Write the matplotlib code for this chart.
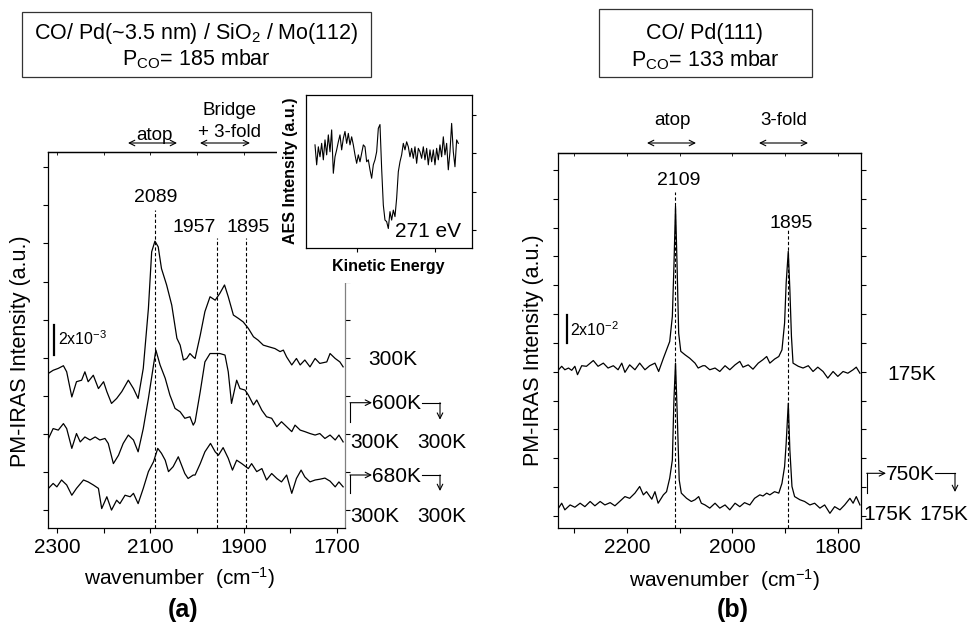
import matplotlib
matplotlib.use("Agg")
import matplotlib.pyplot as plt
from matplotlib.patches import Rectangle
from matplotlib.lines import Line2D
import numpy as np

plt.rcParams['font.family'] = ['Liberation Sans', 'DejaVu Sans']
plt.rcParams['mathtext.fontset'] = 'custom'
plt.rcParams['mathtext.rm'] = 'Liberation Sans'
plt.rcParams['mathtext.it'] = 'Liberation Sans:italic'
plt.rcParams['mathtext.bf'] = 'Liberation Sans:bold'

# ---- panel (a): CO / Pd(~3.5 nm) / SiO2 / Mo(112), intensities in a.u. (offset traces)
wn_300 = [2318, 2308, 2297, 2286, 2279, 2268, 2258, 2247, 2240, 2233, 2222, 2211, 2200, 2193, 2183,
          2172, 2161, 2147, 2136, 2126, 2115, 2104, 2097, 2090, 2083, 2076, 2065, 2054, 2043, 2036,
          2029, 2022, 2015, 2008, 2004, 1993, 1983, 1972, 1961, 1951, 1941, 1933, 1922, 1911, 1901,
          1890, 1879, 1869, 1858, 1847, 1833, 1822, 1815, 1808, 1797, 1787, 1779, 1769, 1758, 1747,
          1737, 1722, 1715, 1704, 1694, 1687]
int_300 = [35.9, 36.7, 37.2, 37.9, 36.3, 29.7, 33.7, 34.1, 36.3, 33.7, 35.4, 31.9, 33.7, 31.1, 28.0,
           29.3, 31.1, 34.1, 31.9, 29.3, 37.2, 52.9, 67.8, 70.6, 69.1, 63.4, 59.1, 53.8, 45.1, 43.3,
           39.4, 39.8, 41.1, 40.2, 39.8, 45.9, 52.1, 56.0, 55.1, 56.9, 59.1, 56.0, 51.2, 50.3, 49.4,
           47.7, 45.5, 44.6, 43.3, 42.9, 42.4, 41.6, 42.0, 40.2, 38.1, 39.8, 38.1, 39.4, 37.6, 39.8,
           38.5, 38.9, 41.1, 39.8, 38.9, 37.6]

wn_600 = [2318, 2308, 2297, 2286, 2279, 2268, 2258, 2250, 2240, 2229, 2218, 2208, 2197, 2190, 2179,
          2168, 2158, 2147, 2136, 2126, 2115, 2104, 2093, 2088, 2079, 2068, 2058, 2047, 2036, 2026,
          2015, 2008, 2004, 1993, 1983, 1972, 1961, 1951, 1940, 1933, 1926, 1915, 1908, 1897, 1890,
          1879, 1872, 1861, 1851, 1840, 1829, 1819, 1808, 1797, 1790, 1779, 1769, 1758, 1747, 1737,
          1726, 1715, 1704, 1696, 1687]
int_600 = [18.8, 21.4, 21.0, 22.7, 21.4, 16.2, 20.1, 17.9, 19.2, 18.4, 19.2, 18.4, 18.8, 17.5, 12.2,
           14.4, 17.5, 19.7, 18.4, 15.3, 21.4, 29.3, 38.1, 42.0, 38.1, 34.6, 30.2, 26.7, 25.8, 24.1,
           24.5, 22.3, 23.2, 31.1, 38.9, 41.1, 41.1, 41.1, 40.7, 36.3, 28.0, 34.1, 31.9, 31.5, 30.2,
           27.6, 28.9, 26.2, 24.5, 24.1, 21.9, 23.2, 21.9, 20.6, 22.3, 21.0, 20.6, 20.1, 19.7, 20.1,
           18.8, 19.7, 18.4, 19.7, 17.9]

wn_680 = [2318, 2308, 2300, 2290, 2279, 2268, 2258, 2243, 2233, 2222, 2211, 2204, 2193, 2183, 2172,
          2165, 2154, 2143, 2136, 2126, 2115, 2104, 2093, 2084, 2076, 2068, 2061, 2051, 2040, 2033,
          2026, 2019, 2008, 2004, 1993, 1983, 1971, 1961, 1954, 1944, 1933, 1924, 1915, 1904, 1890,
          1883, 1872, 1861, 1851, 1840, 1829, 1819, 1808, 1797, 1787, 1777, 1769, 1758, 1747, 1737,
          1726, 1715, 1704, 1696, 1687]
int_680 = [5.7, 7.0, 6.1, 7.9, 6.6, 3.9, 5.7, 7.9, 7.4, 6.6, 5.7, 0.4, 3.5, 0.0, 2.6,
           1.7, 3.9, 3.5, 4.4, 1.7, 5.7, 10.1, 12.7, 16.2, 14.9, 13.1, 10.1, 11.4, 14.0, 11.8,
           9.6, 8.3, 9.2, 9.2, 12.2, 15.3, 17.5, 15.3, 14.4, 16.4, 13.6, 10.5, 13.1, 12.2, 10.9,
           12.2, 10.1, 10.9, 7.9, 9.6, 8.3, 7.4, 9.2, 4.4, 8.3, 10.5, 8.7, 7.4, 7.9, 8.1,
           8.4, 7.6, 6.1, 7.4, 6.1]

peaks_a = [2089, 1957, 1895]
peak_tops_a = [78.7, 71.4, 71.4]

# ---- inset: AES spectrum
ke = np.arange(249.0, 292.01, 0.5)
aes = [22.2, 17.0, 21.7, 19.1, 22.6, 18.3, 23.5, 19.6, 24.8, 20.4, 26.1, 14.8, 19.1, 20.9, 23.0,
       24.8, 20.9, 23.9, 25.7, 22.6, 25.2, 22.2, 24.3, 22.2, 19.6, 17.4, 19.6, 17.8, 20.0, 22.2,
       21.7, 17.8, 18.3, 15.7, 13.5, 17.0, 18.3, 20.4, 26.5, 27.5, 16.0, 6.5, 2.6, 2.2, 0.4,
       4.8, 2.6, 5.2, 3.5, 8.3, 15.2, 17.8, 19.6, 22.6, 20.9, 23.0, 21.7, 19.1, 21.3, 18.7,
       21.7, 17.4, 21.3, 20.4, 18.7, 21.7, 18.3, 21.3, 17.0, 20.9, 17.8, 20.9, 17.0, 21.3, 18.3,
       22.2, 19.1, 24.3, 19.6, 22.6, 15.7, 20.4, 27.8, 20.4, 16.5, 23.5, 22.6]

# ---- panel (b): CO / Pd(111)
wn_175 = [2330, 2324, 2318, 2311, 2305, 2299, 2294, 2286, 2277, 2264, 2255, 2245, 2236, 2226, 2217,
          2210, 2204, 2195, 2185, 2176, 2166, 2157, 2147, 2140, 2131, 2125, 2119, 2114, 2111, 2108,
          2105, 2102, 2098, 2090, 2081, 2071, 2065, 2056,
          2052, 2043, 2033, 2024, 2014, 2005, 1995, 1986, 1980, 1970, 1961, 1951, 1942, 1935, 1929,
          1920, 1912, 1906, 1901, 1898, 1894, 1891, 1888, 1885, 1875, 1866, 1856, 1847, 1838, 1828,
          1819, 1809, 1800, 1790, 1781, 1771, 1765, 1758]
int_175 = [50.7, 51.9, 50.7, 51.3, 50.5, 51.9, 49.0, 52.1, 51.9, 53.9, 51.9, 53.0, 51.3, 52.1, 50.7,
           53.0, 49.8, 52.4, 50.7, 53.0, 50.7, 52.1, 53.0, 50.1, 54.7, 57.6, 60.5, 69.2, 86.6, 107.4,
           86.6, 63.4, 57.1, 55.9, 54.7, 53.0, 51.3, 52.1,
           52.1, 50.7, 51.3, 50.1, 52.1, 50.7, 52.4, 53.6, 51.6, 52.4, 50.9, 53.0, 54.2, 55.3, 53.0,
           54.4, 55.3, 57.6, 66.9, 80.8, 91.8, 78.5, 62.3, 53.0, 51.9, 51.3, 52.1, 50.1, 51.6, 50.1,
           47.8, 50.1, 48.4, 50.1, 49.5, 50.7, 51.6, 49.5]

wn_750 = [2330, 2324, 2318, 2308, 2299, 2289, 2280, 2270, 2261, 2251, 2242, 2232, 2223, 2214, 2204,
          2195, 2185, 2176, 2169, 2163, 2153, 2147, 2141, 2131, 2125, 2119, 2114, 2111, 2108, 2105,
          2101, 2097, 2087, 2078, 2071, 2064, 2059,
          2052, 2043, 2033, 2024, 2014, 2005, 1995, 1986, 1977, 1967, 1958, 1948, 1942, 1935, 1929,
          1920, 1912, 1906, 1901, 1898, 1894, 1891, 1887, 1882, 1872, 1863, 1853, 1844, 1834, 1825,
          1815, 1806, 1796, 1787, 1777, 1771, 1765, 1758]
int_750 = [2.7, 4.4, 2.1, 3.8, 3.0, 4.4, 3.2, 5.0, 3.5, 5.0, 3.8, 4.6, 3.5, 5.0, 6.7,
           6.1, 7.9, 10.2, 7.3, 8.4, 5.8, 8.4, 4.4, 7.3, 8.4, 13.1, 19.4, 40.3, 53.0, 36.8,
           12.5, 7.9, 6.1, 5.0, 5.6, 6.7, 4.4,
           3.8, 2.7, 4.4, 2.7, 3.8, 2.1, 4.4, 3.2, 4.6, 3.8, 6.1, 7.3, 6.9, 7.9, 7.3,
           8.4, 7.9, 11.3, 17.1, 25.2, 39.1, 22.9, 10.2, 6.7, 5.6, 5.0, 3.8, 4.4, 2.7, 3.8,
           0.9, 3.2, 2.1, 3.8, 6.1, 4.4, 6.7, 3.8]

peaks_b = [2109, 1895]
peak_tops_b = [112.5, 99.3]

W, H = 968, 625
fig = plt.figure(figsize=(W / 100, H / 100), dpi=100)


def px(x, y):
    # pixel position (from top-left) -> figure fraction
    return (x / W, 1 - y / H)


def fig_line(xs, ys):
    fig.add_artist(Line2D([x / W for x in xs], [1 - y / H for y in ys],
                          color='black', lw=0.8, transform=fig.transFigure))


def fig_arrow(ax, x0, y0, x1, y1, style='->'):
    ax.annotate('', xy=px(x1, y1), xytext=px(x0, y0), xycoords='figure fraction',
                textcoords='figure fraction',
                arrowprops=dict(arrowstyle=style, lw=0.8, color='black', shrinkA=0, shrinkB=0))


def fig_txt(x, y, s, **kw):
    kw.setdefault('fontsize', 15)
    kw.setdefault('va', 'baseline')
    fig.text(x / W, 1 - y / H, s, **kw)


def center_label(label, x, y, axis):
    label.set_verticalalignment('center')
    label.set_horizontalalignment('center')
    axis.set_label_coords(x, y)


ax_a = fig.add_axes([48 / W, 1 - 528 / H, 297 / W, 376 / H])
ax_b = fig.add_axes([558 / W, 1 - 528 / H, 303 / W, 375 / H])
ax_in = fig.add_axes([306 / W, 1 - 247.7 / H, 166.3 / W, 152.7 / H], zorder=3)

# ---------- panel (a)
for wn, val in [(wn_300, int_300), (wn_600, int_600), (wn_680, int_680)]:
    ax_a.plot(wn, val, color='black', lw=0.9)
ax_a.set_xlim(2319, 1683)
ax_a.set_ylim(-4.7, 94.0)
ax_a.vlines(peaks_a, -4.7, peak_tops_a, colors='black', linestyles=(0, (3, 2)), lw=0.8)
ax_a.text(2089, 80.8, '2089', ha='center', va='baseline', fontsize=14)
ax_a.text(1960, 73.0, '1957', ha='right', va='baseline', fontsize=14)
ax_a.text(1890, 73.0, '1895', ha='center', va='baseline', fontsize=14)
ax_a.plot([2306, 2306], [40.7, 48.6], color='black', lw=1.6)
ax_a.text(2298, 45.1, r'2x10$^{\mathrm{-3}}$', fontsize=11.5, va='center')

ax_a.set_xticks([2300, 2200, 2100, 2000, 1900, 1800, 1700])
ax_a.set_xticklabels(['2300', '', '2100', '', '1900', '', '1700'])
ax_a.set_yticks(range(0, 100, 10))
ax_a.set_yticklabels([])
ax_a.tick_params(axis='both', direction='out', length=3.5, width=0.8, labelsize=15, pad=4)
ax_a.tick_params(axis='y', right=True)
sec_a = ax_a.secondary_xaxis('top')
sec_a.set_xticks([2300, 2200, 2100, 2000, 1900, 1800, 1700])
sec_a.tick_params(direction='in', length=2, width=0.6, labeltop=False)
sec_a.spines['top'].set_linewidth(0.9)
for s in ax_a.spines.values():
    s.set_linewidth(0.9)
ax_a.spines['right'].set_color('#808080')
ax_a.set_xlabel('wavenumber  (cm$^{\\mathrm{-1}}$)', fontsize=15)
ax_a.set_ylabel('PM-IRAS Intensity (a.u.)', fontsize=15.5)
center_label(ax_a.xaxis.label, 0.444, -0.133, ax_a.xaxis)
center_label(ax_a.yaxis.label, -0.094, 0.471, ax_a.yaxis)

# white area behind the inset
fig.patches.append(Rectangle(px(277, 283), 80 / W, 145 / H, transform=fig.transFigure,
                             facecolor='white', edgecolor='none', zorder=1))

# ---------- inset
ax_in.plot(ke, aes, color='black', lw=0.8)
ax_in.set_xlim(246.3, 296.2)
ax_in.set_ylim(-4.6, 35.2)
ax_in.set_xticks([261.7, 285.1])
ax_in.set_xticklabels([])
ax_in.set_yticks([0, 10, 20, 30])
ax_in.set_yticklabels([])
ax_in.tick_params(axis='both', direction='out', length=3, width=0.8)
ax_in.tick_params(axis='y', left=False, right=True)
for s in ax_in.spines.values():
    s.set_linewidth(0.9)
ax_in.text(282.9, -0.5, '271 eV', fontsize=15, ha='center', va='center')
ax_in.set_ylabel('AES Intensity (a.u.)', fontsize=11.5, fontweight='bold')
ax_in.set_xlabel('Kinetic Energy', fontsize=11.5, fontweight='bold')
center_label(ax_in.xaxis.label, 0.493, -0.126, ax_in.xaxis)
center_label(ax_in.yaxis.label, -0.096, 0.502, ax_in.yaxis)

# ---------- panel (b)
ax_b.plot(wn_175, int_175, color='black', lw=0.9)
ax_b.plot(wn_750, int_750, color='black', lw=0.9)
ax_b.set_xlim(2331, 1756)
ax_b.set_ylim(-4.2, 125.9)
ax_b.vlines(peaks_b, -4.2, peak_tops_b, colors='black', linestyles=(0, (3, 2)), lw=0.8)
ax_b.text(2102, 114.9, '2109', ha='center', va='baseline', fontsize=14)
ax_b.text(1889, 100.0, '1895', ha='center', va='baseline', fontsize=14)
ax_b.plot([2314, 2314], [60.1, 69.8], color='black', lw=1.6)
ax_b.text(2308, 64.6, r'2x10$^{\mathrm{-2}}$', fontsize=11.5, va='center')

ax_b.set_xticks([2300, 2200, 2100, 2000, 1900, 1800])
ax_b.set_xticklabels(['', '2200', '', '2000', '', '1800'])
ax_b.set_yticks(range(0, 130, 10))
ax_b.set_yticklabels([])
ax_b.tick_params(axis='both', direction='out', length=3.5, width=0.8, labelsize=15, pad=4)
ax_b.tick_params(axis='y', right=True)
sec_b = ax_b.secondary_xaxis('top')
sec_b.set_xticks([2300, 2200, 2100, 2000, 1900, 1800])
sec_b.tick_params(direction='in', length=2, width=0.6, labeltop=False)
sec_b.spines['top'].set_linewidth(0.9)
for s in ax_b.spines.values():
    s.set_linewidth(0.9)
ax_b.set_xlabel('wavenumber  (cm$^{\\mathrm{-1}}$)', fontsize=15)
ax_b.set_ylabel('PM-IRAS Intensity (a.u.)', fontsize=15.5)
center_label(ax_b.xaxis.label, 0.551, -0.139, ax_b.xaxis)
center_label(ax_b.yaxis.label, -0.0825, 0.475, ax_b.yaxis)

# ---------- title boxes
fig.patches.append(Rectangle(px(22, 77), 349 / W, 65 / H, transform=fig.transFigure,
                             fill=False, edgecolor='#333333', lw=0.9))
fig.patches.append(Rectangle(px(599, 77), 213 / W, 68 / H, transform=fig.transFigure,
                             fill=False, edgecolor='#333333', lw=0.9))
fig_txt(196, 39.5, 'CO/ Pd(~3.5 nm) / SiO$_2$ / Mo(112)', ha='center', fontsize=15.5)
fig_txt(196, 65, r'P$_{\mathrm{CO}}$= 185 mbar', ha='center', fontsize=15.5)
fig_txt(705, 39.5, 'CO/ Pd(111)', ha='center', fontsize=15.5)
fig_txt(705, 66.5, r'P$_{\mathrm{CO}}$= 133 mbar', ha='center', fontsize=15.5)

# ---------- site assignments above the axes
fig_txt(154, 140, 'atop', ha='center', fontsize=13.5)
fig_arrow(ax_a, 128, 143, 177, 143, '<->')
fig_txt(229, 115, 'Bridge', ha='center', fontsize=13.5)
fig_txt(230, 137, '+ 3-fold', ha='center', fontsize=13.5)
fig_arrow(ax_a, 200, 143, 250, 143, '<->')
fig_txt(672, 125, 'atop', ha='center', fontsize=13.5)
fig_arrow(ax_b, 647, 143, 696, 143, '<->')
fig_txt(784, 125, '3-fold', ha='center', fontsize=13.5)
fig_arrow(ax_b, 759, 143, 808, 143, '<->')

# ---------- temperature history labels
fig_txt(368, 365, '300K')
for y_arrow, y_low, temp, y_row in [(402.7, 421.7, '600K', 448.3), (475, 493, '680K', 521.7)]:
    fig_line([350, 350], [y_low, y_arrow])
    fig_arrow(ax_a, 350, y_arrow, 372, y_arrow)
    fig_txt(372, y_arrow + 6.5, temp)
    fig_line([422, 440], [y_arrow, y_arrow])
    fig_arrow(ax_a, 440, y_arrow, 440, y_low - 2)
    fig_txt(350, y_row, '300K')
    fig_txt(417, y_row, '300K')

fig_txt(887, 380, '175K')
fig_line([866.7, 866.7], [493, 473.3])
fig_arrow(ax_b, 866.7, 473.3, 886, 473.3)
fig_txt(886, 480, '750K')
fig_line([935, 955], [473.3, 473.3])
fig_arrow(ax_b, 955, 473.3, 955, 492)
fig_txt(863, 520, '175K')
fig_txt(919, 520, '175K')

# ---------- panel letters
fig_txt(183, 617, '(a)', ha='center', fontsize=18, fontweight='bold')
fig_txt(733, 617, '(b)', ha='center', fontsize=18, fontweight='bold')

fig.savefig('out.png', dpi=100)
